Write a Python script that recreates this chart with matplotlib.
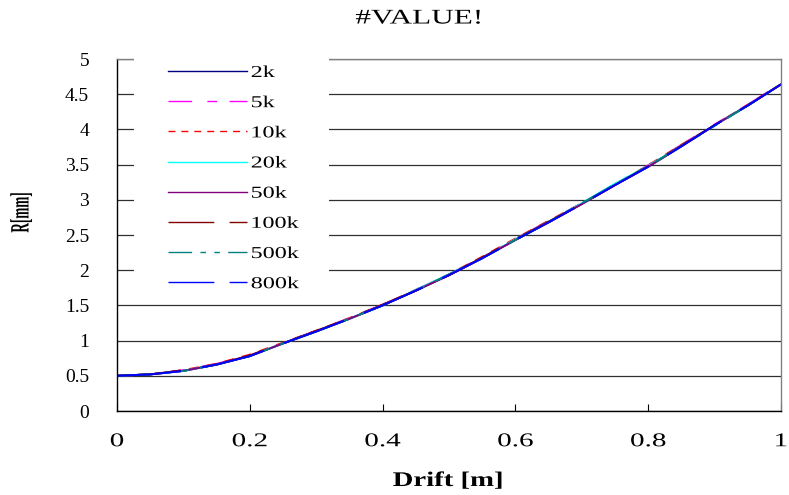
import matplotlib
matplotlib.use("Agg")
import matplotlib.pyplot as plt
from matplotlib.patches import Rectangle
from matplotlib.patheffects import AbstractPathEffect
from matplotlib.transforms import Affine2D

# drift positions [m]
drift = [0.0, 0.05, 0.10, 0.15, 0.20, 0.25, 0.30, 0.35, 0.40, 0.45, 0.50,
         0.55, 0.60, 0.65, 0.70, 0.75, 0.80, 0.85, 0.90, 0.95, 1.00]

# beam radius [mm] per particle count
r_2k = [0.50, 0.52, 0.57, 0.66, 0.78, 0.96, 1.13, 1.31, 1.50, 1.71, 1.93,
        2.17, 2.43, 2.68, 2.94, 3.21, 3.47, 3.76, 4.06, 4.34, 4.64]
r_5k = [0.50, 0.52, 0.58, 0.67, 0.79, 0.96, 1.14, 1.32, 1.51, 1.72, 1.94,
        2.18, 2.44, 2.70, 2.95, 3.22, 3.49, 3.78, 4.07, 4.35, 4.65]
r_10k = [0.50, 0.52, 0.58, 0.67, 0.80, 0.97, 1.14, 1.32, 1.51, 1.72, 1.94,
         2.19, 2.45, 2.70, 2.95, 3.21, 3.49, 3.78, 4.06, 4.35, 4.64]
r_20k = [0.50, 0.52, 0.57, 0.66, 0.78, 0.96, 1.13, 1.31, 1.50, 1.72, 1.94,
         2.17, 2.44, 2.69, 2.95, 3.23, 3.48, 3.77, 4.06, 4.34, 4.64]
r_50k = [0.50, 0.52, 0.57, 0.66, 0.78, 0.96, 1.13, 1.31, 1.50, 1.71, 1.93,
         2.17, 2.43, 2.68, 2.94, 3.21, 3.47, 3.76, 4.06, 4.34, 4.64]
r_100k = [0.50, 0.52, 0.58, 0.66, 0.79, 0.96, 1.14, 1.31, 1.51, 1.71, 1.93,
          2.18, 2.44, 2.69, 2.94, 3.21, 3.48, 3.77, 4.06, 4.34, 4.64]
r_500k = [0.50, 0.52, 0.57, 0.66, 0.78, 0.96, 1.13, 1.31, 1.50, 1.71, 1.94,
          2.17, 2.43, 2.68, 2.95, 3.22, 3.48, 3.76, 4.05, 4.34, 4.64]
r_800k = [0.50, 0.52, 0.57, 0.66, 0.78, 0.96, 1.13, 1.31, 1.50, 1.71, 1.93,
          2.17, 2.43, 2.68, 2.94, 3.21, 3.47, 3.76, 4.06, 4.34, 4.64]

labels = ["2k", "5k", "10k", "20k", "50k", "100k", "500k", "800k"]
series = [r_2k, r_5k, r_10k, r_20k, r_50k, r_100k, r_500k, r_800k]
colors = ["#000080", "#FF00FF", "#FF0000", "#00FFFF",
          "#800080", "#800000", "#008080", "#0000FF"]
styles = ["-", (0, (17, 11, 7, 9)), (0, (5, 4.3)), "-",
          "-", (0, (33, 11)), (0, (17, 6, 4, 6, 4, 6)), (0, (33, 11))]


class Stretch(AbstractPathEffect):
    # scale glyphs around a point of their bbox (the old chart text is stretched)
    def __init__(self, sx=1.0, sy=1.0, fx=0.5, fy=0.5):
        super().__init__()
        self.sx, self.sy, self.fx, self.fy = sx, sy, fx, fy

    def draw_path(self, renderer, gc, tpath, affine, rgbFace=None):
        bb = tpath.get_extents(affine)
        cx = bb.x0 + self.fx * bb.width
        cy = bb.y0 + self.fy * bb.height
        a = affine + Affine2D().translate(-cx, -cy).scale(self.sx, self.sy).translate(cx, cy)
        renderer.draw_path(gc, tpath, a, rgbFace)


plt.rcParams["font.family"] = "Liberation Serif"

fig = plt.figure(figsize=(7.89, 4.95), dpi=100)
ax = fig.add_axes([117/789, 1-411/495, 664/789, 352/495])

for ys, lab, c, ls in zip(series, labels, colors, styles):
    ax.plot(drift, ys, color=c, linestyle=ls, linewidth=1.4, label=lab)

ax.set_xlim(0, 1)
ax.set_ylim(0, 5)
ax.set_xticks([0, 0.2, 0.4, 0.6, 0.8, 1])
ax.set_xticklabels(["0", "0.2", "0.4", "0.6", "0.8", "1"])
ax.set_yticks([0, 0.5, 1, 1.5, 2, 2.5, 3, 3.5, 4, 4.5, 5])
ax.set_yticklabels(["0", "0.5", "1", "1.5", "2", "2.5", "3", "3.5", "4", "4.5", "5"])
ax.tick_params(axis="x", direction="in", length=5, width=0.8, labelsize=14, pad=16)
ax.tick_params(axis="y", direction="in", length=0, labelsize=14, pad=20)
for t in ax.get_xticklabels():
    t.set_path_effects([Stretch(1.5, 1.0)])
ax.grid(axis="y", color="#303030", linewidth=0.9)
ax.set_axisbelow(True)

ax.spines["left"].set_color("black")
ax.spines["bottom"].set_color("black")
ax.spines["top"].set_color("#808080")
ax.spines["right"].set_color("#808080")
for s in ax.spines.values():
    s.set_linewidth(1.0)

# white area behind the legend hides the gridlines there
ax.add_patch(Rectangle((17/664, 115/352), 195/664, 240/352, transform=ax.transAxes,
                       facecolor="white", edgecolor="none", zorder=3, clip_on=False))

leg = ax.legend(loc="upper left", bbox_to_anchor=(51/664, 346/352), frameon=False,
                fontsize=12, handlelength=4.73, handletextpad=0.25,
                labelspacing=0.85, borderpad=0, borderaxespad=0)
leg.set_zorder(5)
for h in leg.get_lines():
    h.set_linewidth(1.0)
for t in leg.get_texts():
    t.set_path_effects([Stretch(1.45, 1.0, fx=0.0)])

fig.text(419/789, 1-19/495, "#VALUE!", ha="center", va="center", fontsize=15,
         path_effects=[Stretch(1.5, 1.0)])
fig.text(448/789, 1-481/495, "Drift [m]", ha="center", va="center",
         fontsize=15, fontweight="bold", path_effects=[Stretch(1.38, 1.0)])
fig.text(22/789, 1-212/495, "R[mm]", ha="center", va="center", rotation=90,
         fontsize=19, fontweight="bold", path_effects=[Stretch(1.0, 0.5)])

fig.savefig("out.png", dpi=100)
